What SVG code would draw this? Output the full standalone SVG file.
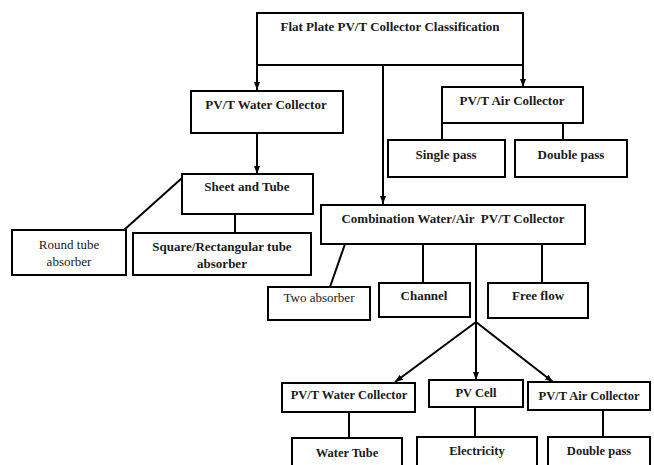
<svg xmlns="http://www.w3.org/2000/svg" width="654" height="465" viewBox="0 0 654 465">
<defs>
<style>
.b{fill:#fff;stroke:#000;stroke-width:2}
.c{fill:none;stroke:#000;stroke-width:2}
text{font-family:"Liberation Serif","Times New Roman",serif;font-size:13px;font-weight:bold;fill:#1a1a1a;text-anchor:middle}
.n{font-weight:normal}
.s{font-size:12.5px}
</style>
<marker id="a" markerUnits="userSpaceOnUse" markerWidth="8" markerHeight="8" viewBox="0 0 8 8" refX="8" refY="4" orient="auto">
<path d="M0,1 L8,4 L0,7 Z" fill="#000"/>
</marker>
</defs>
<g id="connectors">
<line class="c" x1="257" y1="65" x2="257" y2="90" marker-end="url(#a)"/>
<line class="c" x1="523" y1="65" x2="523" y2="87" marker-end="url(#a)"/>
<line class="c" x1="383" y1="65" x2="383" y2="204" marker-end="url(#a)"/>
<line class="c" x1="257" y1="133" x2="257" y2="174" marker-end="url(#a)"/>
<line class="c" x1="442" y1="123" x2="442" y2="140"/>
<line class="c" x1="563" y1="123" x2="563" y2="140"/>
<line class="c" x1="124" y1="230" x2="182" y2="178"/>
<line class="c" x1="235" y1="214" x2="235" y2="233"/>
<line class="c" x1="345" y1="244" x2="330" y2="287"/>
<line class="c" x1="423" y1="244" x2="423" y2="283"/>
<line class="c" x1="542" y1="244" x2="542" y2="283"/>
<line class="c" x1="476" y1="244" x2="476" y2="322"/>
<line class="c" x1="476" y1="322" x2="395" y2="382" marker-end="url(#a)"/>
<line class="c" x1="476" y1="322" x2="476" y2="380" marker-end="url(#a)"/>
<line class="c" x1="476" y1="322" x2="553" y2="382" marker-end="url(#a)"/>
<line class="c" x1="349" y1="412" x2="349" y2="438"/>
<line class="c" x1="475" y1="407" x2="475" y2="437"/>
<line class="c" x1="603" y1="410" x2="603" y2="437"/>
</g>
<g id="root"><rect class="b" x="257" y="13" width="266" height="52"/><text x="390" y="31">Flat Plate PV/T Collector Classification</text></g>
<g id="water"><rect class="b" x="191" y="91" width="152" height="42"/><text x="266" y="109">PV/T Water Collector</text></g>
<g id="air"><rect class="b" x="442" y="87" width="141" height="36"/><text x="512" y="105">PV/T Air Collector</text></g>
<g id="single"><rect class="b" x="388" y="140" width="117" height="37"/><text x="446" y="159">Single pass</text></g>
<g id="double"><rect class="b" x="515" y="140" width="112" height="37"/><text x="571" y="159">Double pass</text></g>
<g id="sheet"><rect class="b" x="182" y="174" width="131" height="40"/><text x="247" y="191">Sheet and Tube</text></g>
<g id="round"><rect class="b" x="12" y="230" width="114" height="45"/><text class="n" x="69" y="249">Round tube</text><text class="n" x="69" y="266">absorber</text></g>
<g id="square"><rect class="b" x="133" y="233" width="178" height="42"/><text x="222" y="251">Square/Rectangular tube</text><text x="222" y="268">absorber</text></g>
<g id="combo"><rect class="b" x="321" y="205" width="264" height="39"/><text x="453" y="223" xml:space="preserve">Combination Water/Air  PV/T Collector</text></g>
<g id="two"><rect class="b" x="268" y="287" width="102" height="33"/><text class="n" x="319" y="302">Two absorber</text></g>
<g id="channel"><rect class="b" x="379" y="283" width="91" height="34"/><text x="424" y="300">Channel</text></g>
<g id="free"><rect class="b" x="488" y="283" width="100" height="35"/><text x="538" y="300">Free flow</text></g>
<g id="bwater"><rect class="b" x="282" y="383" width="133" height="29"/><text class="s" x="349" y="399">PV/T Water Collector</text></g>
<g id="pvcell"><rect class="b" x="429" y="380" width="94" height="27"/><text class="s" x="476" y="397">PV Cell</text></g>
<g id="bair"><rect class="b" x="528" y="382" width="122" height="28"/><text class="s" x="589" y="400">PV/T Air Collector</text></g>
<g id="tube"><rect class="b" x="292" y="438" width="110" height="40"/><text class="s" x="347" y="457">Water Tube</text></g>
<g id="elec"><rect class="b" x="417" y="437" width="120" height="40"/><text class="s" x="477" y="455">Electricity</text></g>
<g id="bdouble"><rect class="b" x="548" y="437" width="102" height="40"/><text class="s" x="599" y="455">Double pass</text></g>
</svg>
